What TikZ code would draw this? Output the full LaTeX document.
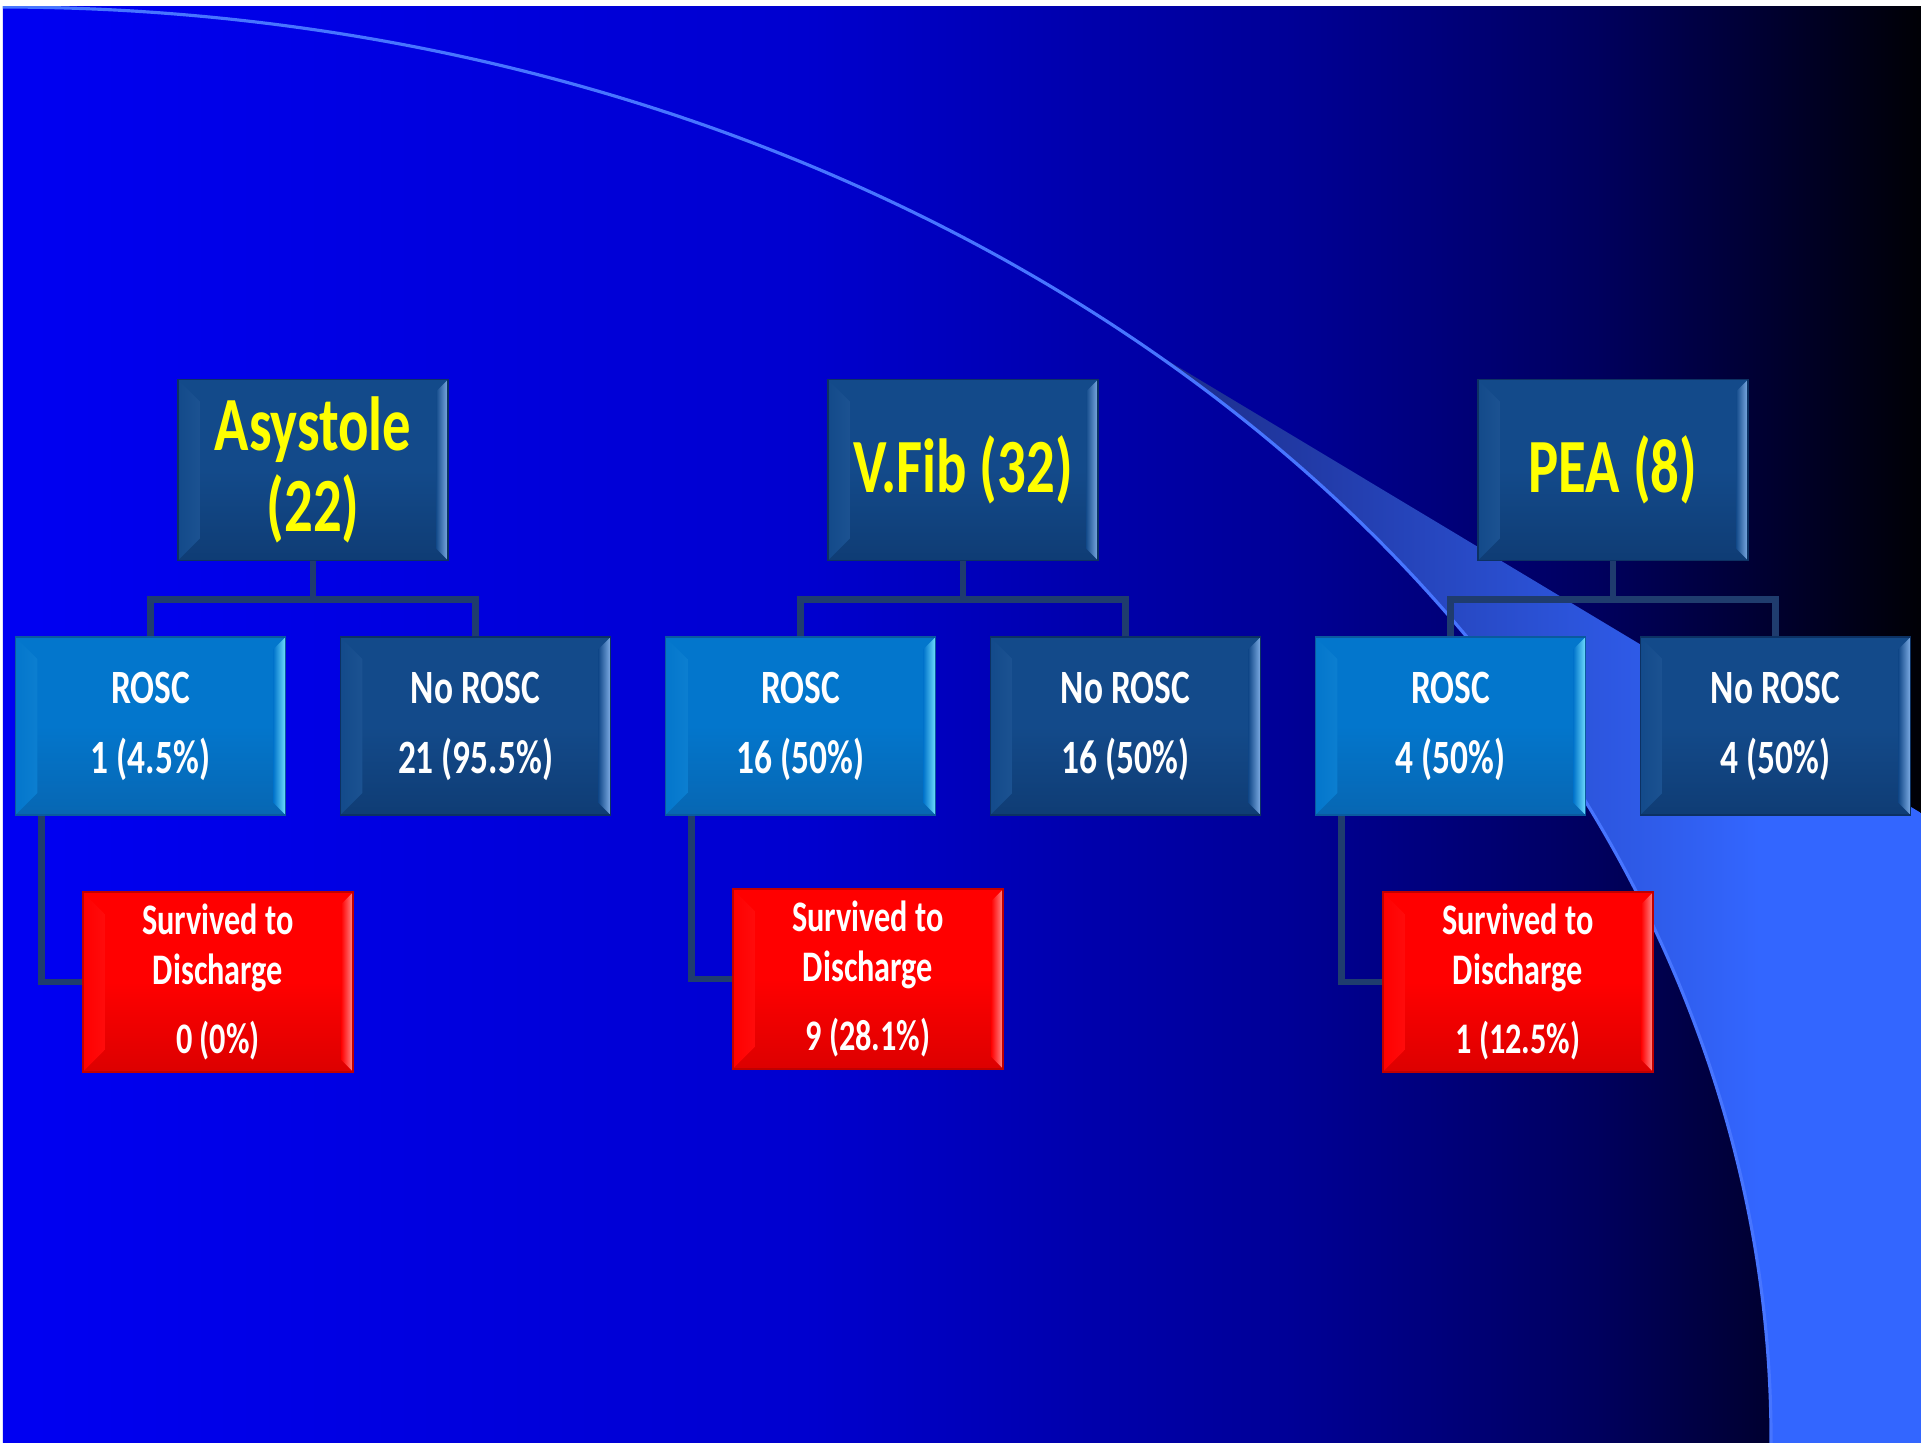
\documentclass[tikz,border=0pt]{standalone}
\usepackage{fontspec}
\setmainfont{Carlito}[FakeStretch=0.74]

\definecolor{navybox}{HTML}{134A8A}
\definecolor{navylight}{HTML}{80AEE6}
\definecolor{navyedge}{HTML}{0C3163}
\definecolor{roscfill}{HTML}{0376CC}
\definecolor{rosclight}{HTML}{70DEFF}
\definecolor{roscedge}{HTML}{0A5A9E}
\definecolor{survfill}{HTML}{FF0000}
\definecolor{survlight}{HTML}{FF8C8C}
\definecolor{survedge}{HTML}{C00000}
\definecolor{linkcol}{HTML}{1F3C6E}
\definecolor{swoosh}{HTML}{3366FF}
\definecolor{swooshdark}{HTML}{1B2A86}
\definecolor{titleyellow}{HTML}{FFFF00}

\pgfdeclarehorizontalshading{slidebg}{100bp}{rgb(0bp)=(0,0,.95); rgb(25bp)=(0,0,.95);
  rgb(46bp)=(0,0,.81); rgb(53.5bp)=(0,0,.67); rgb(58.5bp)=(0,0,.59);
  rgb(66.5bp)=(0,0,.37); rgb(70.5bp)=(0,0,.21); rgb(75bp)=(0,0,.02); rgb(100bp)=(0,0,.02)}

\tikzset{
  bevelbox/.style n args={3}{draw=#3, line width=0.5pt,
    top color=#1, bottom color=#3!55!#1, middle color=#1,
    path picture={
      \shade[left color=#1, right color=#2]
        (path picture bounding box.south west)
        -- (path picture bounding box.north west)
        -- ([shift={(0.22cm,-0.22cm)}]path picture bounding box.north west)
        -- ([shift={(0.22cm,0.22cm)}]path picture bounding box.south west) -- cycle;
      \shade[left color=#1, right color=#2]
        (path picture bounding box.south east)
        -- (path picture bounding box.north east)
        -- ([shift={(-0.12cm,-0.12cm)}]path picture bounding box.north east)
        -- ([shift={(-0.12cm,0.12cm)}]path picture bounding box.south east) -- cycle;
    }},
  rhythm/.style={bevelbox={navybox}{navylight}{navyedge}, minimum width=2.7cm, minimum height=1.81cm,
    text=titleyellow, align=center, font=\bfseries\fontsize{21.8}{23}\selectfont},
  rosc/.style={bevelbox={roscfill}{rosclight}{roscedge}, minimum width=2.7cm, minimum height=1.78cm,
    text=white, align=center, font=\bfseries\fontsize{13.6}{19.9}\selectfont},
  norosc/.style={bevelbox={navybox}{navylight}{navyedge}, minimum width=2.7cm, minimum height=1.78cm,
    text=white, align=center, font=\bfseries\fontsize{13.6}{19.9}\selectfont},
  survived/.style={bevelbox={survfill}{survlight}{survedge}, minimum width=2.7cm, minimum height=1.78cm,
    text=white, align=center, font=\bfseries\fontsize{12.4}{14.2}\selectfont},
  link/.style={draw=linkcol, line width=1.8pt},
}

\begin{document}
\begin{tikzpicture}[x=0.01cm, y=-0.01cm]
  % Slide
  \useasboundingbox (0,0) rectangle (1921,1443);
  \fill[white] (0,0) rectangle (1921,1443);
  \shade[shading=slidebg] (3,7) rectangle (1921,1443);

  % Swoosh
  \begin{scope}
    \clip (3,7) rectangle (1921,1443);
    \begin{scope}
      \clip (1140,344) arc[start angle=49.9, end angle=-3, x radius=17.7cm, y radius=14.32cm]
        -- (1921,1520) -- (1921,813) -- cycle;
      \shade[left color=swooshdark, right color=swoosh] (1140,300) rectangle (1760,1443);
      \fill[swoosh] (1760,300) rectangle (1921,1443);
    \end{scope}
    \draw[swoosh!90!white, line width=0.9pt] (0,7)
      arc[start angle=90, end angle=-3, x radius=17.7cm, y radius=14.32cm];
  \end{scope}

  % Rhythms
  \node[rhythm] (tA) at (313,470) {Asystole\\(22)};
  \node[rhythm] (tV) at (963,470) {V.Fib (32)};
  \node[rhythm] (tP) at (1613,470) {PEA (8)};

  % ROSC
  \node[rosc] (rA) at (150.5,726) {ROSC\\1 (4.5\%)};
  \node[norosc] (nA) at (475.5,726) {No ROSC\\21 (95.5\%)};
  \node[rosc] (rV) at (800.5,726) {ROSC\\16 (50\%)};
  \node[norosc] (nV) at (1125.5,726) {No ROSC\\16 (50\%)};
  \node[rosc] (rP) at (1450.5,726) {ROSC\\4 (50\%)};
  \node[norosc] (nP) at (1775.5,726) {No ROSC\\4 (50\%)};

  % Discharge
  \node[survived] (sA) at (218,982) {Survived to\\Discharge\\[5.4pt]0 (0\%)};
  \node[survived] (sV) at (868,979) {Survived to\\Discharge\\[5.4pt]9 (28.1\%)};
  \node[survived] (sP) at (1518,982) {Survived to\\Discharge\\[5.4pt]1 (12.5\%)};

  \draw[link] (tA.south) -- ++(0,38) -| (rA.north);
  \draw[link] (tA.south) -- ++(0,38) -| (nA.north);

  \draw[link] (tV.south) -- ++(0,38) -| (rV.north);
  \draw[link] (tV.south) -- ++(0,38) -| (nV.north);

  \draw[link] (tP.south) -- ++(0,38) -| (rP.north);
  \draw[link] (tP.south) -- ++(0,38) -| (nP.north);

  \draw[link] ([xshift=0.27cm]rA.south west) |- (sA.west);
  \draw[link] ([xshift=0.27cm]rV.south west) |- (sV.west);
  \draw[link] ([xshift=0.27cm]rP.south west) |- (sP.west);
\end{tikzpicture}
\end{document}
